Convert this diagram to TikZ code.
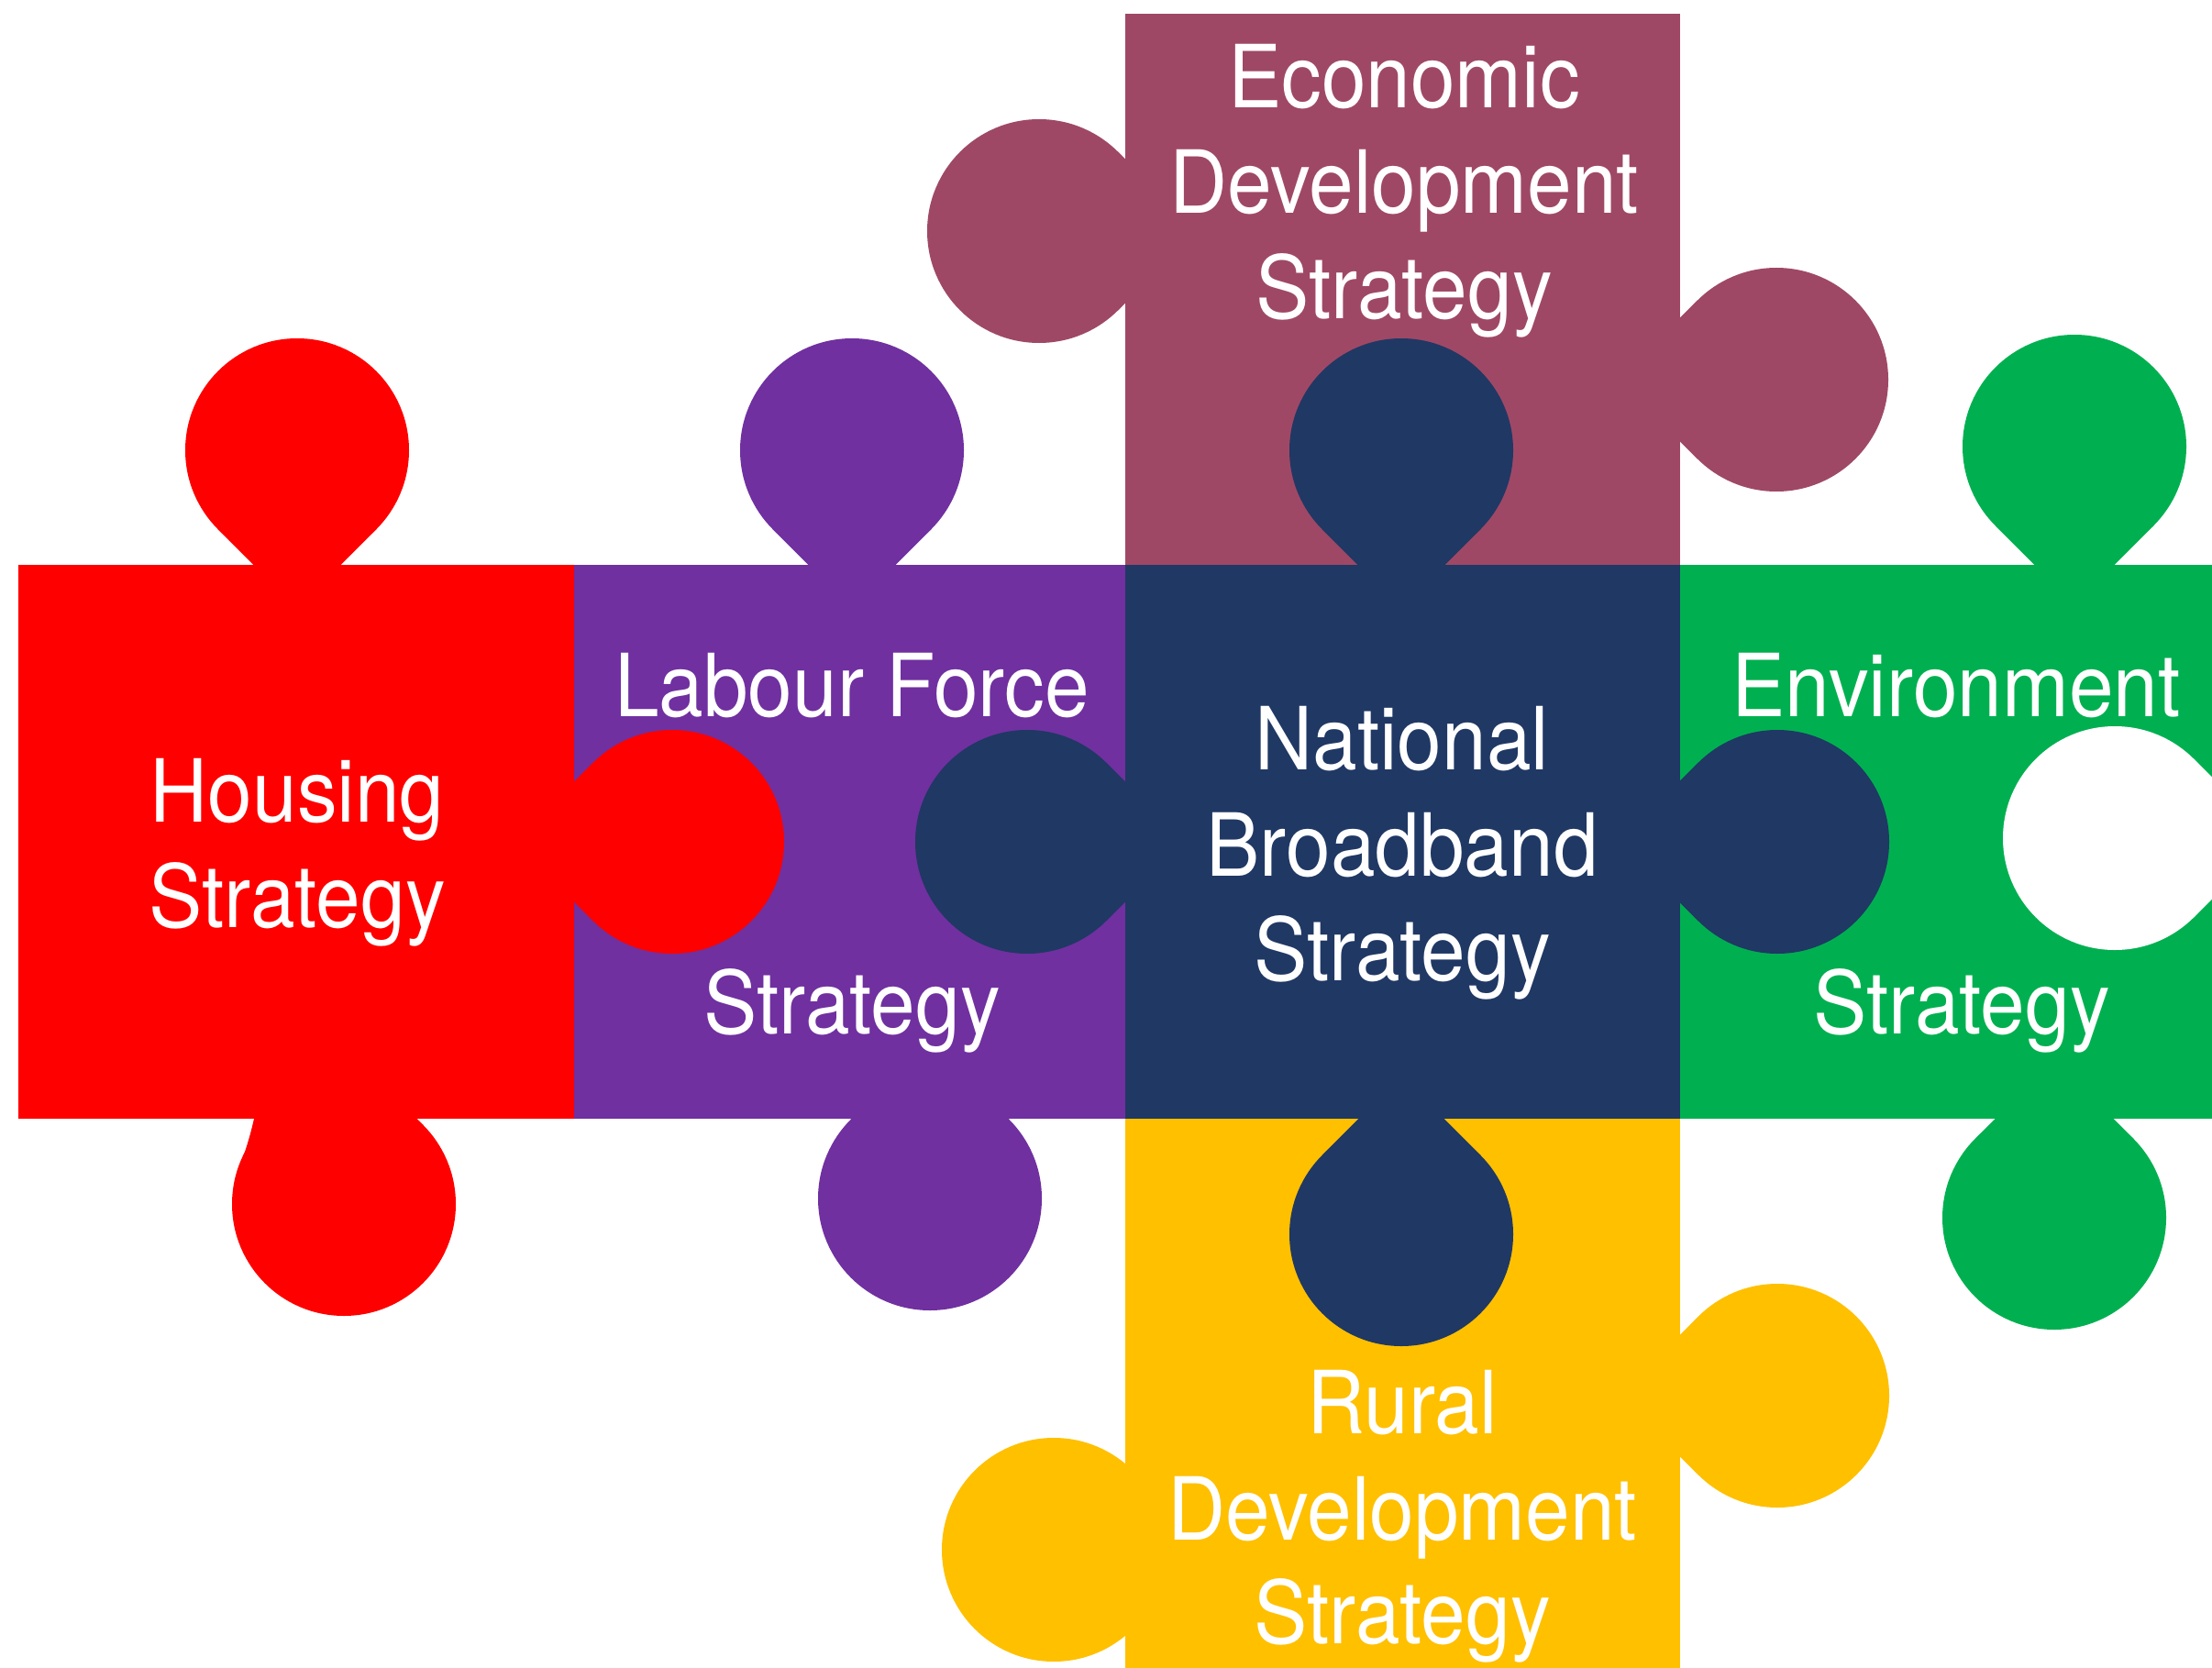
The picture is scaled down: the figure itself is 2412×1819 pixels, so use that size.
\documentclass[tikz,border=0pt]{standalone}
\usepackage{fontspec}
\setmainfont{TeX Gyre Heros}[FakeStretch=0.92]
\definecolor{cRed}{HTML}{FF0000}
\definecolor{cPurple}{HTML}{7030A0}
\definecolor{cNavy}{HTML}{203864}
\definecolor{cMaroon}{HTML}{9F4866}
\definecolor{cGreen}{HTML}{00B050}
\definecolor{cYellow}{HTML}{FFC000}
\tikzset{lbl/.style={text=white, anchor=base, inner sep=0pt, font=\fontsize{95}{115}\selectfont}}
% #1 colour, #2 cx, #3 cy, #4 ux, #5 uy, #6 distance centre-to-edge
\newcommand\puzknob[6]{%
  \pgfmathsetmacro\kt{122/sqrt(2)}%
  \pgfmathsetmacro\kw{sqrt(2)*122-#6}%
  \fill[#1] (#2,#3) circle[radius=122pt];
  \fill[#1] (#2,#3)
    -- ({#2+\kt*(-(#4)-(#5))},{#3+\kt*(-(#5)+(#4))})
    -- ({#2-#6*(#4)-\kw*(#5)},{#3-#6*(#5)+\kw*(#4)})
    -- ({#2-#6*(#4)+\kw*(#5)},{#3-#6*(#5)-\kw*(#4)})
    -- ({#2+\kt*(-(#4)+(#5))},{#3+\kt*(-(#5)-(#4))}) -- cycle;
}
\begin{document}
\begin{tikzpicture}[x=1pt,y=-1pt]
\useasboundingbox (0,0) rectangle (2412,1819);
\clip (0,0) rectangle (2412,1819);
% squares
\fill[cRed]    (20,616)   rectangle (626,1220);
\fill[cPurple] (626,616)  rectangle (1227,1220);
\fill[cNavy]   (1227,616) rectangle (1832,1220);
\fill[cGreen]  (1832,616) rectangle (2440,1220);
\fill[cMaroon] (1227,15)  rectangle (1832,616);
\fill[cYellow] (1227,1220) rectangle (1832,1830);
% red knobs
\puzknob{cRed}{324}{491}{0}{-1}{125}
\puzknob{cRed}{733}{918}{1}{0}{107}
\puzknob{cRed}{375}{1313}{0}{1}{93}
\fill[cRed] (277,1220) .. controls (273,1238) and (267,1258) .. (259,1278) -- (375,1313) -- (300,1220) -- cycle;
% purple knobs
\puzknob{cPurple}{929}{491}{0}{-1}{125}
\puzknob{cPurple}{1014}{1307}{0}{1}{87}
% maroon knobs
\puzknob{cMaroon}{1133}{252}{-1}{0}{94}
\puzknob{cMaroon}{1937}{414}{1}{0}{105}
% green knobs
\puzknob{cGreen}{2262}{487}{0}{-1}{129}
\puzknob{cGreen}{2240}{1328}{0}{1}{108}
\puzknob{white}{2306}{914}{-1}{0}{131}
% yellow knobs
\puzknob{cYellow}{1149}{1690}{-1}{0}{78}
\puzknob{cYellow}{1938}{1522}{1}{0}{106}
% navy knobs
\puzknob{cNavy}{1528}{491}{0}{-1}{125}
\puzknob{cNavy}{1120}{918}{-1}{0}{107}
\puzknob{cNavy}{1938}{918}{1}{0}{106}
\puzknob{cNavy}{1528}{1346}{0}{1}{126}
% labels
\node[lbl] (hou1) at (324,896) {Housing};
\node[lbl] (hou2) at (324,1011) {Strategy};
\node[lbl] (lab1) at (929,781) {Labour Force};
\node[lbl] (lab2) at (929,1127) {Strategy};
\node[lbl] (nat1) at (1529,839) {National};
\node[lbl] (nat2) at (1529,955) {Broadband};
\node[lbl] (nat3) at (1529,1069) {Strategy};
\node[lbl] (eco1) at (1531,118) {Economic};
\node[lbl] (eco2) at (1531,233) {Development};
\node[lbl] (eco3) at (1531,348) {Strategy};
\node[lbl] (env1) at (2133,781) {Environment};
\node[lbl] (env2) at (2139,1127) {Strategy};
\node[lbl] (rur1) at (1529,1563) {Rural};
\node[lbl] (rur2) at (1529,1679) {Development};
\node[lbl] (rur3) at (1529,1792) {Strategy};
\end{tikzpicture}
\end{document}
